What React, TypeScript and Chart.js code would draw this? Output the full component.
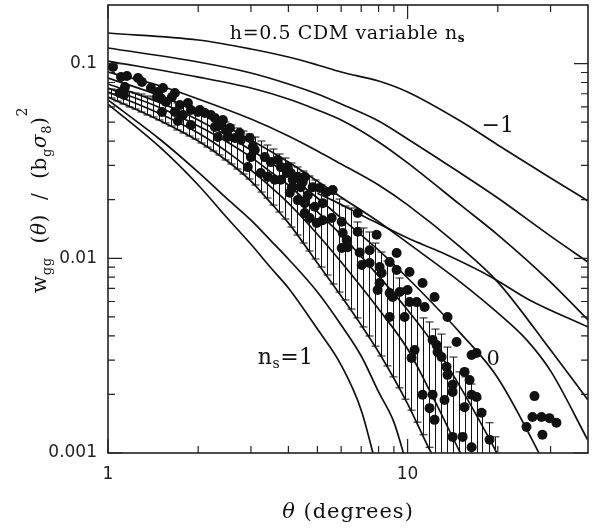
import React, { useEffect, useRef } from 'react';
import { Chart, registerables } from 'chart.js';

Chart.register(...registerables);

// ---------------- data ----------------
// model curves, labelled by spectral index n_s
const thetaNm10 = [1, 2, 3, 4, 5, 6, 8, 10, 15, 20, 30, 40];
const wNm10 = [0.1436, 0.1322, 0.1189, 0.1081, 0.0984, 0.0905, 0.0814, 0.0715, 0.0507, 0.0382, 0.02585, 0.0197];
const thetaNm08 = [1, 2, 3, 4, 5, 6, 8, 10, 15, 20, 30, 40];
const wNm08 = [0.1203, 0.1019, 0.0895, 0.0786, 0.0698, 0.0620, 0.0507, 0.0410, 0.0274, 0.0204, 0.0130, 0.00957];
const thetaNm06 = [1, 2, 3, 4, 5, 6, 8, 10, 15, 20, 30, 40];
const wNm06 = [0.1031, 0.0853, 0.0749, 0.0658, 0.0578, 0.0513, 0.0396, 0.0309, 0.0188, 0.0132, 0.00755, 0.00482];
const thetaNm04 = [1, 1.5, 2, 3, 4, 5, 6, 8, 10, 15, 20, 30, 40];
const wNm04 = [0.0905, 0.0767, 0.0658, 0.0519, 0.0425, 0.0356, 0.0305, 0.0238, 0.0188, 0.0114, 0.00755, 0.00338, 0.00187];
const thetaNm02 = [1, 1.5, 2, 3, 4, 5, 6, 8, 10, 15, 20, 25, 30, 40];
const wNm02 = [0.0843, 0.0682, 0.0564, 0.0405, 0.0312, 0.0249, 0.0206, 0.0154, 0.0120, 0.00755, 0.00524, 0.00380, 0.00264, 0.00116];
const thetaN00 = [1, 1.5, 2, 3, 4, 5, 6, 8, 10, 15, 20, 30];
const wN00 = [0.0786, 0.0627, 0.0513, 0.0360, 0.0268, 0.0204, 0.0161, 0.0110, 0.00792, 0.00413, 0.00243, 0.00077];
const thetaN02 = [1, 1.5, 2, 2.5, 3, 3.5, 4, 5, 6, 8, 10, 12, 15, 20, 22];
const wN02 = [0.0749, 0.0592, 0.0478, 0.0396, 0.0331, 0.0277, 0.0238, 0.0173, 0.0132, 0.00811, 0.00543, 0.00376, 0.00218, 0.00098, 0.00073];
const thetaN04 = [1, 1.5, 2, 2.5, 3, 3.5, 4, 5, 6, 8, 10, 12, 15, 16];
const wN04 = [0.0714, 0.0551, 0.0440, 0.0352, 0.0284, 0.0232, 0.0192, 0.0133, 0.00957, 0.00549, 0.00342, 0.00201, 0.00100, 0.00082];
const thetaN06 = [1, 1.5, 2, 2.5, 3, 3.5, 4, 5, 6, 7, 8, 10, 12, 13];
const wN06 = [0.0674, 0.0507, 0.0400, 0.0316, 0.0249, 0.0192, 0.0152, 0.00946, 0.00640, 0.00454, 0.00330, 0.00179, 0.00100, 0.00082];
const thetaN08 = [1, 1.5, 2, 2.5, 3, 3.5, 4, 5, 6, 7, 8, 9, 10];
const wN08 = [0.0650, 0.0405, 0.0277, 0.0202, 0.0157, 0.0123, 0.00992, 0.00671, 0.00454, 0.00315, 0.00206, 0.00144, 0.00084];
const thetaN10 = [1, 1.5, 2, 2.5, 3, 3.5, 4, 5, 6, 7, 8];
const wN10 = [0.0620, 0.0369, 0.0238, 0.0161, 0.0118, 0.00891, 0.00704, 0.00433, 0.00283, 0.00166, 0.00077];
// extra shallow curve crossing the family
const thetaExtra = [5, 5.6, 7, 10, 13, 19, 25.5, 40];
const wExtra = [0.0216, 0.0199, 0.0167, 0.0127, 0.0107, 0.00802, 0.00611, 0.00444];

// error bars (hatched band)
const barTheta = [1.023, 1.072, 1.122, 1.175, 1.230, 1.288, 1.349, 1.413, 1.479, 1.549, 1.622, 1.698, 1.778, 1.862, 1.950, 2.042, 2.138, 2.239, 2.344, 2.455, 2.570, 2.692, 2.818, 2.951, 3.090, 3.236, 3.388, 3.548, 3.715, 3.890, 4.074, 4.266, 4.467, 4.677, 4.898, 5.129, 5.370, 5.623, 5.888, 6.166, 6.457, 6.761, 7.079, 7.413, 7.762, 8.128, 8.511, 8.913, 9.333, 9.772, 10.23, 10.72, 11.22, 11.75, 12.30, 12.88, 13.49, 14.13, 14.79, 15.49, 16.22, 16.98, 17.78, 18.62, 19.50];
const barLow = [0.06659, 0.06426, 0.06202, 0.05986, 0.05846, 0.05642, 0.05445, 0.05318, 0.05133, 0.04954, 0.04781, 0.04560, 0.04401, 0.04247, 0.04099, 0.03910, 0.03729, 0.03557, 0.03392, 0.03198, 0.03050, 0.02875, 0.02710, 0.02555, 0.02380, 0.02190, 0.02040, 0.01878, 0.01729, 0.01591, 0.01448, 0.01317, 0.01198, 0.01090, 0.00992, 0.00902, 0.00821, 0.00738, 0.00671, 0.00611, 0.00549, 0.00494, 0.00444, 0.00399, 0.00354, 0.00315, 0.00280, 0.00246, 0.00216, 0.00189, 0.00166, 0.00144, 0.00124, 0.00107, 0.0008, 0.0008, 0.0008, 0.0008, 0.0008, 0.0008, 0.0008, 0.0008, 0.0008, 0.0008, 0.0008];
const barHigh = [0.07406, 0.07319, 0.07233, 0.07148, 0.07064, 0.06981, 0.06818, 0.06738, 0.06659, 0.06503, 0.06426, 0.06276, 0.06129, 0.05986, 0.05846, 0.05709, 0.05576, 0.05381, 0.05194, 0.05013, 0.04838, 0.04669, 0.04506, 0.04349, 0.04197, 0.04003, 0.03818, 0.03642, 0.03433, 0.03274, 0.03087, 0.02944, 0.02808, 0.02647, 0.02525, 0.02380, 0.02243, 0.02139, 0.02016, 0.01856, 0.01813, 0.01536, 0.01431, 0.01365, 0.01198, 0.01077, 0.00969, 0.00913, 0.00792, 0.00704, 0.00611, 0.00569, 0.00494, 0.00471, 0.00433, 0.00408, 0.00350, 0.00311, 0.00261, 0.00246, 0.00226, 0.00189, 0.00164, 0.00143, 0.00121];

// measured points
const dotTheta = [1.039, 1.105, 1.157, 1.259, 1.298, 1.139, 1.096, 1.131, 1.391, 1.468, 1.526, 1.672, 1.502, 1.561, 1.457, 1.634, 1.514, 1.738, 1.672, 1.848, 1.891, 1.778, 1.711, 1.995, 2.105, 2.205, 2.274, 1.891, 2.274, 2.381, 2.474, 2.327, 2.512, 2.651, 2.776, 2.974, 3.090, 2.997, 2.929, 2.026, 2.418, 2.551, 2.754, 3.337, 3.495, 3.688, 3.774, 3.236, 3.415, 3.604, 3.774, 3.981, 4.074, 4.299, 4.536, 4.137, 4.399, 4.043, 4.299, 4.536, 4.536, 4.467, 4.106, 4.642, 4.824, 5.090, 5.370, 5.623, 4.898, 5.208, 4.714, 4.974, 5.208, 5.580, 6.026, 6.813, 6.072, 6.262, 6.026, 6.310, 6.813, 7.880, 6.918, 7.469, 7.025, 7.469, 8.066, 8.191, 8.710, 9.191, 9.191, 10.15, 8.066, 7.943, 8.710, 9.404, 10.0, 8.913, 10.15, 10.72, 11.40, 8.710, 9.772, 10.55, 10.31, 11.22, 12.30, 13.59, 12.12, 12.49, 14.57, 12.59, 12.98, 16.35, 16.98, 13.49, 13.59, 15.49, 16.10, 14.13, 11.22, 12.12, 16.35, 16.98, 11.84, 13.28, 14.13, 15.49, 17.65, 12.30, 14.13, 15.26, 16.35, 18.77, 26.51, 24.93, 26.10, 27.97, 29.74, 31.38, 28.18, 3.952, 4.137, 3.043];
const dotValue = [0.0961, 0.0854, 0.0864, 0.0844, 0.0804, 0.0758, 0.0706, 0.0690, 0.0749, 0.0715, 0.0749, 0.0706, 0.0666, 0.0635, 0.0674, 0.0674, 0.0564, 0.0613, 0.0564, 0.0628, 0.0578, 0.0545, 0.0507, 0.0564, 0.0558, 0.0545, 0.0526, 0.0484, 0.0473, 0.0484, 0.0456, 0.0420, 0.0420, 0.0415, 0.0405, 0.0415, 0.0360, 0.0331, 0.0294, 0.0578, 0.0513, 0.0467, 0.0440, 0.0331, 0.0312, 0.0320, 0.0294, 0.0274, 0.0262, 0.0253, 0.0253, 0.0294, 0.0274, 0.0262, 0.0262, 0.0232, 0.0232, 0.0217, 0.0199, 0.0171, 0.0192, 0.0247, 0.0230, 0.0211, 0.0232, 0.0230, 0.0219, 0.0224, 0.0184, 0.0192, 0.0161, 0.0152, 0.0157, 0.0161, 0.0154, 0.0171, 0.0135, 0.0124, 0.0113, 0.0114, 0.0137, 0.0132, 0.0107, 0.0110, 0.00924, 0.00946, 0.00902, 0.00841, 0.00957, 0.01065, 0.00871, 0.00851, 0.00746, 0.00688, 0.00663, 0.00671, 0.00688, 0.00633, 0.00596, 0.00596, 0.00562, 0.00500, 0.00500, 0.00338, 0.00308, 0.00746, 0.00633, 0.00500, 0.00381, 0.00359, 0.00372, 0.00330, 0.00311, 0.00319, 0.00326, 0.00277, 0.00252, 0.00261, 0.00237, 0.00224, 0.00199, 0.00199, 0.00199, 0.00194, 0.00170, 0.00187, 0.00206, 0.00172, 0.00161, 0.00148, 0.00121, 0.00121, 0.00107, 0.00117, 0.00196, 0.00136, 0.00153, 0.00153, 0.00151, 0.00143, 0.00124, 0.0274, 0.0253, 0.0373];

// axes
const xMin = 1;
const xMax = 40;
const yMin = 0.001;
const yMax = 0.2;
const xMajorTicks = [1, 10];
const xTickLabels = ['1', '10'];
const xMinorTicks = [2, 3, 4, 5, 6, 7, 8, 9, 20, 30];
const yMajorTicks = [0.001, 0.01, 0.1];
const yTickLabels = ['0.001', '0.01', '0.1'];
const yMinorTicks = [0.002, 0.003, 0.004, 0.005, 0.006, 0.007, 0.008, 0.009, 0.02, 0.03, 0.04, 0.05, 0.06, 0.07, 0.08, 0.09];

// in-plot labels (anchored at data coordinates)
const titleAnchor = { theta: 2.55, value: 0.1337 };
const minusOneAnchor = { theta: 17.65, value: 0.0445 };
const zeroAnchor = { theta: 18.34, value: 0.00283 };
const nsOneAnchor = { theta: 3.162, value: 0.00286 };

// ---------------- drawing helpers ----------------
const SERIF = '"DejaVu Serif", "Liberation Serif", serif';
const SANS = '"DejaVu Sans", "Liberation Sans", sans-serif';
const INK = '#111';

type Seg = { t: string; size: number; italic?: boolean; bold?: boolean; dy?: number };

function fontOf(s: Seg) {
  return `${s.italic ? 'italic ' : ''}${s.bold ? 'bold ' : ''}${s.size}px ${SERIF}`;
}

function drawRich(ctx: any, segs: Seg[], x: number, y: number, align: 'left' | 'center', spacing: number) {
  ctx.save();
  try { ctx.letterSpacing = spacing + 'px'; } catch (e) { /* ignore */ }
  const widths = segs.map((s) => { ctx.font = fontOf(s); return ctx.measureText(s.t).width; });
  const total = widths.reduce((a, b) => a + b, 0);
  let cx = align === 'center' ? x - total / 2 : x;
  ctx.fillStyle = INK;
  ctx.textAlign = 'left';
  ctx.textBaseline = 'alphabetic';
  segs.forEach((s, i) => {
    ctx.font = fontOf(s);
    ctx.fillText(s.t, cx, y + (s.dy || 0));
    cx += widths[i];
  });
  ctx.restore();
}

const errorBarPlugin = {
  id: 'errorBars',
  beforeDatasetsDraw(chart: any) {
    const { ctx, chartArea: a, scales } = chart;
    ctx.save();
    ctx.beginPath();
    ctx.rect(a.left, a.top, a.right - a.left, a.bottom - a.top);
    ctx.clip();
    ctx.strokeStyle = INK;
    ctx.lineWidth = 1;
    ctx.beginPath();
    const cap = 4;
    for (let i = 0; i < barTheta.length; i++) {
      const x = Math.round(scales.x.getPixelForValue(barTheta[i])) + 0.5;
      const y1 = scales.y.getPixelForValue(barLow[i]);
      const y2 = scales.y.getPixelForValue(barHigh[i]);
      ctx.moveTo(x, y1); ctx.lineTo(x, y2);
      ctx.moveTo(x - cap, y1); ctx.lineTo(x + cap, y1);
      ctx.moveTo(x - cap, y2); ctx.lineTo(x + cap, y2);
    }
    ctx.stroke();
    ctx.restore();
  },
};

const frameTextPlugin = {
  id: 'frameText',
  afterDraw(chart: any) {
    const { ctx, chartArea: a, scales } = chart;
    const sx = scales.x, sy = scales.y;
    ctx.save();
    ctx.strokeStyle = '#222';
    ctx.lineWidth = 1.6;
    ctx.strokeRect(a.left, a.top, a.right - a.left, a.bottom - a.top);
    ctx.lineWidth = 1.2;
    ctx.beginPath();
    const majLen = 14, minLen = 7;
    const xt = (v: number, len: number) => {
      const x = sx.getPixelForValue(v);
      ctx.moveTo(x, a.bottom); ctx.lineTo(x, a.bottom - len);
      ctx.moveTo(x, a.top); ctx.lineTo(x, a.top + len);
    };
    const yt = (v: number, len: number) => {
      const y = sy.getPixelForValue(v);
      ctx.moveTo(a.left, y); ctx.lineTo(a.left + len, y);
      ctx.moveTo(a.right, y); ctx.lineTo(a.right - len, y);
    };
    xMajorTicks.forEach((v) => xt(v, majLen));
    xMinorTicks.forEach((v) => xt(v, minLen));
    yMajorTicks.forEach((v) => yt(v, majLen));
    yMinorTicks.forEach((v) => yt(v, minLen));
    ctx.stroke();
    ctx.restore();

    drawRich(ctx, [
      { t: 'h=0.5 CDM variable n', size: 19 },
      { t: 's', size: 12, bold: true, dy: 3 },
    ], sx.getPixelForValue(titleAnchor.theta), sy.getPixelForValue(titleAnchor.value), 'left', 0.6);

    drawRich(ctx, [{ t: '\u22121', size: 22 }], sx.getPixelForValue(minusOneAnchor.theta), sy.getPixelForValue(minusOneAnchor.value), 'left', 0);
    drawRich(ctx, [{ t: '0', size: 21 }], sx.getPixelForValue(zeroAnchor.theta), sy.getPixelForValue(zeroAnchor.value), 'left', 0);
    drawRich(ctx, [
      { t: 'n', size: 22 },
      { t: 's', size: 14, dy: 4 },
      { t: '=1', size: 22 },
    ], sx.getPixelForValue(nsOneAnchor.theta), sy.getPixelForValue(nsOneAnchor.value), 'left', 0.5);

    drawRich(ctx, [
      { t: '\u03b8', size: 21, italic: true },
      { t: ' (degrees)', size: 21 },
    ], (a.left + a.right) / 2, a.bottom + 65, 'center', 1);

    ctx.save();
    ctx.translate(46, a.top + 195);
    ctx.rotate(-Math.PI / 2);
    drawRich(ctx, [
      { t: 'w', size: 20 },
      { t: 'gg', size: 13, dy: 5 },
      { t: '  (', size: 20 },
      { t: '\u03b8', size: 20, italic: true },
      { t: ')  /  (b', size: 20 },
      { t: 'g', size: 13, dy: 5 },
      { t: '\u03c3', size: 20, italic: true },
      { t: '8', size: 13, dy: 5 },
      { t: ')', size: 20 },
      { t: '2', size: 14, dy: -19 },
    ], 0, 0, 'center', 0.6);
    ctx.restore();
  },
};

function curve(thetas: number[], values: number[]) {
  return {
    data: thetas.map((t, i) => ({ x: t, y: values[i] })),
    showLine: true,
    pointRadius: 0,
    borderColor: INK,
    borderWidth: 1.7,
    fill: false,
    cubicInterpolationMode: 'monotone' as const,
  };
}

export default function App() {
  const ref = useRef<HTMLCanvasElement | null>(null);

  useEffect(() => {
    if (!ref.current) return;
    const chart = new Chart(ref.current, {
      type: 'scatter',
      data: {
        datasets: [
          {
            data: dotTheta.map((t, i) => ({ x: t, y: dotValue[i] })),
            pointRadius: 5,
            pointBackgroundColor: INK,
            pointBorderColor: INK,
            pointBorderWidth: 0,
            showLine: false,
          },
          curve(thetaExtra, wExtra),
          curve(thetaNm10, wNm10),
          curve(thetaNm08, wNm08),
          curve(thetaNm06, wNm06),
          curve(thetaNm04, wNm04),
          curve(thetaNm02, wNm02),
          curve(thetaN00, wN00),
          curve(thetaN02, wN02),
          curve(thetaN04, wN04),
          curve(thetaN06, wN06),
          curve(thetaN08, wN08),
          curve(thetaN10, wN10),
        ] as any,
      },
      options: {
        animation: false,
        responsive: false,
        devicePixelRatio: 1,
        layout: { autoPadding: false, padding: { top: 5, right: 4, left: 0, bottom: 0 } },
        plugins: { legend: { display: false }, tooltip: { enabled: false } },
        events: [],
        scales: {
          x: {
            type: 'logarithmic',
            min: xMin,
            max: xMax,
            bounds: 'data',
            position: 'bottom',
            grid: { display: false, drawTicks: false },
            border: { display: false },
            ticks: {
              autoSkip: false,
              maxRotation: 0,
              padding: 11,
              color: '#222',
              font: { family: SANS, size: 17 },
              callback: (_v: any, i: number) => xTickLabels[i],
            },
            afterBuildTicks: (s: any) => { s.ticks = xMajorTicks.map((v) => ({ value: v })); },
            afterFit: (s: any) => { s.height = 76; s.paddingLeft = 0; s.paddingRight = 0; },
          },
          y: {
            type: 'logarithmic',
            min: yMin,
            max: yMax,
            bounds: 'data',
            grid: { display: false, drawTicks: false },
            border: { display: false },
            ticks: {
              autoSkip: false,
              padding: 11,
              color: '#222',
              font: { family: SANS, size: 17 },
              callback: (_v: any, i: number) => yTickLabels[i],
            },
            afterBuildTicks: (s: any) => { s.ticks = yMajorTicks.map((v) => ({ value: v })); },
            afterFit: (s: any) => { s.width = 108; s.paddingTop = 0; s.paddingBottom = 0; },
          },
        } as any,
      },
      plugins: [errorBarPlugin, frameTextPlugin],
    });
    return () => chart.destroy();
  }, []);

  return (
    <div style={{ position: 'absolute', left: 0, top: 0, width: 592, height: 529, background: '#fff' }}>
      <canvas ref={ref} width={592} height={529} style={{ display: 'block' }} />
    </div>
  );
}
